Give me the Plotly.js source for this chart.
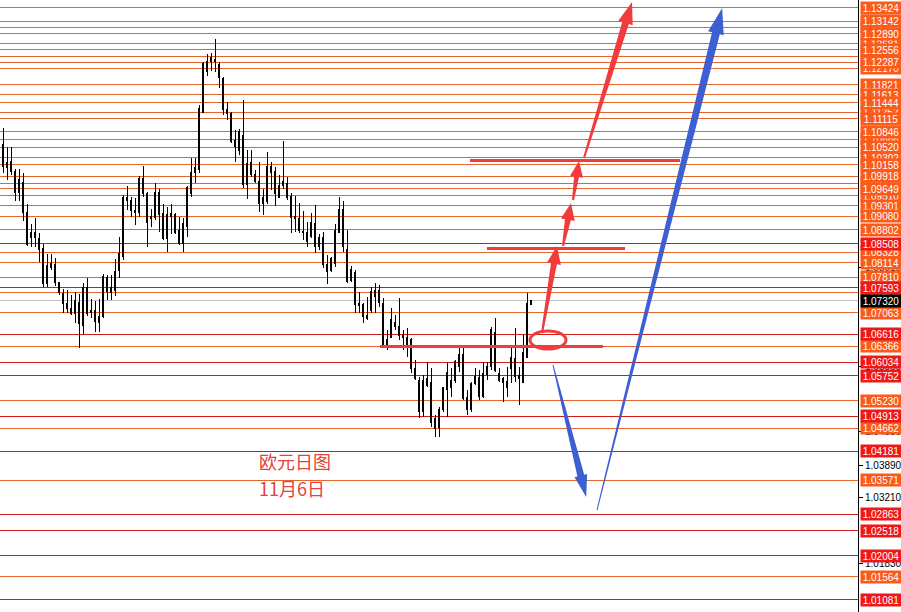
<!DOCTYPE html>
<html><head><meta charset="utf-8">
<script src="https://cdn.plot.ly/plotly-3.0.1.min.js"></script>
<style>html,body{margin:0;padding:0;background:#fff}#chart{width:901px;height:612px}
.shapelayer path{shape-rendering:crispEdges}
.shapelayer path.arrowshape{shape-rendering:auto}
.trace.boxes path{shape-rendering:crispEdges}
</style>
</head><body><div id="chart"></div>
<script>
// ---- EURUSD daily candles ----
const open = [1.1057,1.1009,1.1023,1.1002,1.0958,1.0979,1.0915,1.0863,1.0873,1.0861,
1.0840,1.0767,1.0802,1.0808,1.0769,1.0746,1.0716,1.0716,1.0706,1.0729,
1.0681,1.0760,1.0712,1.0712,1.0687,1.0698,1.0781,1.0748,1.0754,1.0794,
1.0823,1.0946,1.0940,1.0919,1.0915,1.0986,1.0956,1.0908,1.0906,1.0958,
1.0913,1.0861,1.0913,1.0911,1.0879,1.0852,1.0886,1.0956,1.1000,1.1006,
1.1125,1.1209,1.1230,1.1234,1.1225,1.1196,1.1130,1.1123,1.1065,1.1046,
1.1077,1.0975,1.1019,1.0996,1.0981,1.0935,1.0938,1.1011,1.1002,1.0948,
1.0973,1.0977,1.0950,1.0908,1.0904,1.0877,1.0856,1.0865,1.0892,1.0844,
1.0863,1.0808,1.0794,1.0810,1.0875,1.0921,1.0838,1.0773,1.0790,1.0727,
1.0723,1.0694,1.0712,1.0740,1.0754,1.0727,1.0635,1.0656,1.0687,1.0677,
1.0656,1.0656,1.0650,1.0591,1.0566,1.0500,1.0556,1.0562,1.0487,1.0468,
1.0504,1.0546,1.0550,1.0566,1.0594,1.0619,1.0529,1.0504,1.0560,1.0571,
1.0531,1.0577,1.0594,1.0665,1.0581,1.0569,1.0550,1.0591,1.0612,1.0575,
1.0562,1.0614,1.0723];
const high = [1.1092,1.1052,1.1052,1.1006,1.1006,1.0998,1.0933,1.0892,1.0905,1.0873,
1.0850,1.0829,1.0829,1.0821,1.0771,1.0756,1.0754,1.0744,1.0750,1.0746,
1.0769,1.0779,1.0735,1.0731,1.0735,1.0787,1.0785,1.0785,1.0819,1.0865,
1.0952,1.0971,1.0948,1.0946,1.0992,1.1013,1.0958,1.0923,1.0977,1.0965,
1.0933,1.0927,1.0933,1.0915,1.0906,1.0904,1.0971,1.1029,1.1029,1.1140,
1.1230,1.1246,1.1248,1.1278,1.1230,1.1198,1.1146,1.1125,1.1088,1.1090,
1.1150,1.1046,1.1046,1.1004,1.1021,1.0965,1.1042,1.1021,1.1011,1.0994,
1.1065,1.0990,1.0956,1.0950,1.0935,1.0919,1.0896,1.0915,1.0931,1.0871,
1.0875,1.0827,1.0823,1.0892,1.0948,1.0940,1.0879,1.0804,1.0796,1.0750,
1.0727,1.0740,1.0760,1.0769,1.0765,1.0737,1.0671,1.0717,1.0702,1.0737,
1.0671,1.0675,1.0654,1.0608,1.0573,1.0577,1.0604,1.0591,1.0493,1.0510,
1.0552,1.0602,1.0591,1.0608,1.0635,1.0639,1.0546,1.0562,1.0591,1.0587,
1.0604,1.0604,1.0677,1.0696,1.0591,1.0573,1.0594,1.0635,1.0675,1.0594,
1.0660,1.0748,1.0733];
const low = [1.0998,1.0984,1.0994,1.0940,1.0940,1.0898,1.0846,1.0844,1.0844,1.0812,
1.0760,1.0760,1.0796,1.0762,1.0744,1.0706,1.0706,1.0702,1.0685,1.0633,
1.0662,1.0700,1.0696,1.0667,1.0667,1.0696,1.0733,1.0733,1.0742,1.0779,
1.0817,1.0921,1.0906,1.0890,1.0906,1.0948,1.0844,1.0885,1.0900,1.0875,
1.0858,1.0833,1.0871,1.0871,1.0848,1.0833,1.0865,1.0948,1.0977,1.0998,
1.1125,1.1200,1.1211,1.1209,1.1175,1.1119,1.1109,1.1061,1.1021,1.1036,
1.0967,1.0944,1.0990,1.0977,1.0917,1.0911,1.0933,1.0963,1.0929,1.0946,
1.0965,1.0942,1.0873,1.0875,1.0873,1.0858,1.0844,1.0863,1.0831,1.0838,
1.0800,1.0767,1.0792,1.0802,1.0873,1.0833,1.0769,1.0771,1.0706,1.0706,
1.0685,1.0692,1.0706,1.0706,1.0719,1.0633,1.0629,1.0654,1.0671,1.0650,
1.0629,1.0614,1.0581,1.0566,1.0487,1.0489,1.0552,1.0468,1.0448,1.0448,
1.0500,1.0489,1.0531,1.0560,1.0583,1.0525,1.0493,1.0500,1.0556,1.0525,
1.0529,1.0566,1.0587,1.0583,1.0562,1.0521,1.0531,1.0560,1.0562,1.0514,
1.0560,1.0612,1.0723];
const close = [1.1011,1.1019,1.1002,1.0958,1.0984,1.0915,1.0848,1.0875,1.0863,1.0838,
1.0767,1.0806,1.0810,1.0769,1.0748,1.0725,1.0725,1.0706,1.0733,1.0685,
1.0760,1.0706,1.0708,1.0689,1.0698,1.0783,1.0750,1.0760,1.0792,1.0831,
1.0946,1.0940,1.0919,1.0915,1.0986,1.0956,1.0894,1.0904,1.0958,1.0911,
1.0861,1.0911,1.0908,1.0875,1.0852,1.0892,1.0967,1.1000,1.1009,1.1132,
1.1227,1.1230,1.1238,1.1230,1.1198,1.1130,1.1123,1.1063,1.1054,1.1084,
1.0975,1.1017,1.0994,1.0981,1.0935,1.0948,1.1011,1.1000,1.0956,1.0973,
1.0981,1.0948,1.0906,1.0904,1.0879,1.0873,1.0873,1.0894,1.0844,1.0863,
1.0808,1.0792,1.0819,1.0879,1.0923,1.0844,1.0771,1.0796,1.0723,1.0721,
1.0698,1.0700,1.0750,1.0754,1.0729,1.0639,1.0650,1.0692,1.0677,1.0660,
1.0660,1.0639,1.0591,1.0570,1.0500,1.0566,1.0569,1.0477,1.0466,1.0504,
1.0550,1.0583,1.0566,1.0604,1.0619,1.0527,1.0504,1.0560,1.0573,1.0531,
1.0581,1.0594,1.0671,1.0587,1.0566,1.0562,1.0564,1.0614,1.0573,1.0569,
1.0623,1.0727,1.0732];
const day = open.map((_, k) => k + 1);   // bar number

// ---- horizontal price levels ----
const orangeLevels = [1.13424,1.13142,1.13018,1.12890,1.12681,1.12556,1.12415,1.12287,1.12170,
1.11821,1.11613,1.11444,1.11252,1.11115,1.10846,1.10686,1.10520,1.10302,1.10158,1.09918,1.09770,
1.09649,1.09510,1.09301,1.09080,1.08802,1.08328,1.08114,1.07810,1.07480,1.07063,1.06366,1.05230,
1.04662,1.03571,1.01564];
const redLevels = [1.08508,1.07593,1.06616,1.06034,1.05752,1.04913,1.04181,1.02863,1.02518,1.02004,1.01081];
const coveredLevels = [1.13018,1.12681,1.12170,1.11252,1.10686,1.09770,1.09510,1.07480,1.12415];
const currentPrice = 1.07320;
const scaleTicks = [1.01830,1.03210,1.03890,1.04580,1.05950,1.08010];

// ---- hand-drawn annotations (bar number, price) ----
const keyLevel = {from: 95.25, to: 151, price: 1.06366};
const targetLevels = [{from: 122, to: 156.5, price: 1.08417}, {from: 117.75, to: 170.25, price: 1.10252}];
const circleZone = {x0: 132.75, x1: 141.75, y0: 1.06310, y1: 1.06686};
const redArrows = [
  {tail:[135.75,1.06644], head:[139.5,1.08459]},
  {tail:[141.0,1.08459], head:[143.0,1.09355]},
  {tail:[143.5,1.09418], head:[145.0,1.10231]},
  {tail:[146.25,1.10294], head:[158.25,1.13547]}
];
const blueArrows = [
  {tail:[138.5,1.05977], head:[146.8,1.03224]},
  {tail:[149.5,1.02953], head:[180.8,1.13422]}
];
const noteTitle = '欧元日图';
const noteDate = '11月6日';

// ---- layout geometry ----
const W = 901, H = 612, MR = 43;
const PW = W - MR, PH = H;
const xRange = [0.25, 214.75];
const yRange = [1.00826, 1.13589];
const toPx = (x, y) => [ (x - xRange[0]) / (xRange[1]-xRange[0]) * PW,
                         (yRange[1] - y) / (yRange[1]-yRange[0]) * PH ];
const toData = (px, py) => [ xRange[0] + px / PW * (xRange[1]-xRange[0]),
                             yRange[1] - py / PH * (yRange[1]-yRange[0]) ];

function arrowPath(a, wTail, wShaft, wHead, hLen) {
  const [tx, ty] = toPx(a.tail[0], a.tail[1]);
  const [hx, hy] = toPx(a.head[0], a.head[1]);
  const len = Math.hypot(hx - tx, hy - ty);
  const dx = (hx - tx)/len, dy = (hy - ty)/len;
  const nx = -dy, ny = dx;
  const sx = hx - dx*hLen, sy = hy - dy*hLen;
  const pts = [
    [tx + nx*wTail/2, ty + ny*wTail/2],
    [sx + nx*wShaft/2, sy + ny*wShaft/2],
    [sx + nx*wHead/2, sy + ny*wHead/2],
    [hx, hy],
    [sx - nx*wHead/2, sy - ny*wHead/2],
    [sx - nx*wShaft/2, sy - ny*wShaft/2],
    [tx - nx*wTail/2, ty - ny*wTail/2]
  ].map(p => toData(p[0], p[1]));
  return 'M' + pts.map(p => p[0].toFixed(4) + ',' + p[1].toFixed(6)).join(' L') + ' Z';
}

const ORANGE_LINE = '#e4662c', RED_LINE = '#d01c1c';
const ORANGE_LBL = '#fa5a1a', RED_LBL = '#ee1818';
const RED_DRAW = '#f03c3c', BLUE_DRAW = '#3d5fd2';

const shapes = [];
orangeLevels.forEach(v => shapes.push({type:'line', xref:'paper', x0:0, x1:1, yref:'y', y0:v, y1:v,
  line:{color:ORANGE_LINE, width:1}, layer:'below'}));
redLevels.forEach(v => shapes.push({type:'line', xref:'paper', x0:0, x1:1, yref:'y', y0:v, y1:v,
  line:{color:RED_LINE, width:1}, layer:'below'}));
shapes.push({type:'line', xref:'paper', x0:0, x1:1, yref:'y', y0:currentPrice, y1:currentPrice,
  line:{color:'#c0c0c0', width:1}, layer:'below'});
[keyLevel].concat(targetLevels).forEach(s => shapes.push({type:'line', xref:'x', yref:'y',
  x0:s.from, x1:s.to, y0:s.price, y1:s.price, line:{color:RED_DRAW, width:3}}));
shapes.push({type:'circle', xref:'x', yref:'y', x0:circleZone.x0, x1:circleZone.x1,
  y0:circleZone.y0, y1:circleZone.y1, line:{color:RED_DRAW, width:3}});
const redSizes = [[2,6,14,18],[2,6,14,17],[2,5,13,16],[2,7,15,22]];
redArrows.forEach((a,k) => shapes.push({type:'path', xref:'x', yref:'y',
  path: arrowPath(a, ...redSizes[k]), fillcolor:RED_DRAW, line:{width:0}}));
const blueSizes = [[1,7,13,22],[1,8,16,26]];
blueArrows.forEach((a,k) => shapes.push({type:'path', xref:'x', yref:'y',
  path: arrowPath(a, ...blueSizes[k]), fillcolor:BLUE_DRAW, line:{width:0}}));

// price labels on the right
const annotations = [];
const LBL_FONT = 'Liberation Sans, Arial, sans-serif';
function lbl(v, bg, fg) {
  annotations.push({xref:'paper', x:1, xanchor:'left', xshift:2, yref:'y', y:v, yanchor:'middle',
    text: v.toFixed(5), showarrow:false, bgcolor:bg, width:40, height:12, borderpad:0,
    font:{family:LBL_FONT, size:10, color:fg}});
}
const allLevels = orangeLevels.map(v => [v, ORANGE_LBL]).concat(redLevels.map(v => [v, RED_LBL]));
allLevels.filter(l => coveredLevels.includes(l[0])).forEach(l => lbl(l[0], l[1], '#ffffff'));
allLevels.filter(l => !coveredLevels.includes(l[0])).forEach(l => lbl(l[0], l[1], '#ffffff'));
lbl(currentPrice, '#000000', '#ffffff');

annotations.push({xref:'x', yref:'y', x:74, y:1.03975, text:noteTitle, showarrow:false,
  font:{family:'Noto Sans CJK SC, sans-serif', size:18, color:'#e8403c'}});
annotations.push({xref:'x', yref:'y', x:73.3, y:1.03412, text:noteDate, showarrow:false,
  font:{family:'Noto Sans CJK SC, sans-serif', size:18, color:'#e8403c'}});

const trace = {type:'candlestick', x:day, open:open, high:high, low:low, close:close,
  increasing:{line:{color:'#000000', width:1}, fillcolor:'#ffffff'},
  decreasing:{line:{color:'#000000', width:1}, fillcolor:'#000000'},
  whiskerwidth:0, hoverinfo:'skip', showlegend:false};

const layout = {
  width:W, height:H, autosize:false,
  margin:{l:0, r:MR, t:0, b:0, pad:0},
  paper_bgcolor:'#ffffff', plot_bgcolor:'#ffffff',
  showlegend:false,
  xaxis:{range:xRange, visible:false, rangeslider:{visible:false}, fixedrange:true},
  yaxis:{range:yRange, side:'right', showgrid:false, zeroline:false,
    showline:true, linecolor:'#000000', linewidth:1, mirror:false,
    ticks:'outside', ticklen:4, tickcolor:'#000000',
    tickvals:scaleTicks, ticktext:scaleTicks.map(v => v.toFixed(5)),
    tickfont:{family:'Liberation Sans, Arial, sans-serif', size:10, color:'#000000'}, fixedrange:true},
  shapes:shapes, annotations:annotations
};
Plotly.newPlot('chart', [trace], layout, {displayModeBar:false, staticPlot:true}).then(() => {
  // keep the filled arrows and ellipse smooth, straight level lines crisp
  document.querySelectorAll('.shapelayer path').forEach(p => {
    const d = p.getAttribute('d') || '';
    if ((d.match(/L/g) || []).length > 2 || /A|C/.test(d)) p.classList.add('arrowshape');
  });
});
</script></body></html>
